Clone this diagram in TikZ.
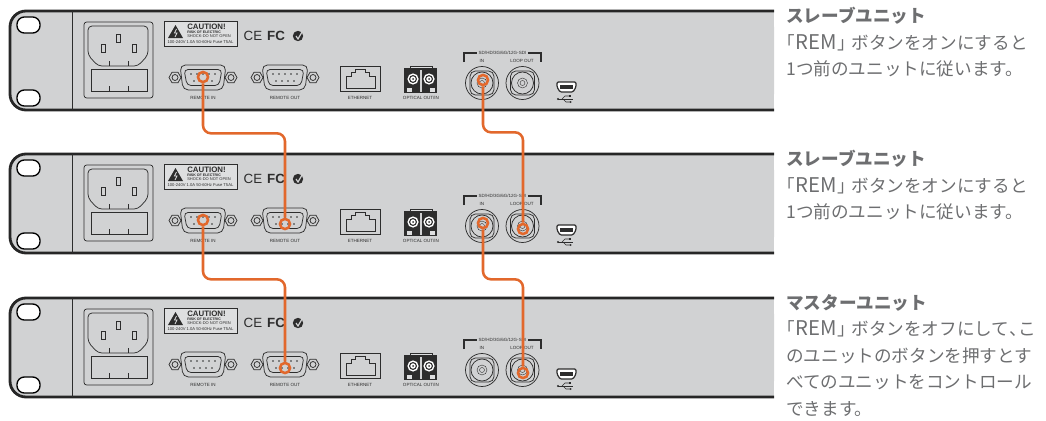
\documentclass[tikz,border=0pt]{standalone}
\usepackage{fontspec}
\setsansfont{Liberation Sans}
\newfontfamily\jpfont{Noto Sans CJK JP}
\newfontfamily\jphalf[RawFeature=+palt]{Noto Sans CJK JP}
\newcommand{\hw}[1]{{\jphalf #1}}
\newcommand{\remword}{\hw{「}\kern.6pt{\fontsize{15.2}{19.9}\selectfont REM}\kern.6pt\hw{」}\kern3.6pt}
\usetikzlibrary{arrows.meta,positioning,calc}
\definecolor{rPanel}{RGB}{209,210,211}
\definecolor{rLabel}{RGB}{222,223,224}
\definecolor{rInk}{RGB}{45,45,45}
\definecolor{rText}{RGB}{109,110,112}
\definecolor{rCable}{RGB}{226,104,44}
\tikzset{
	rearpanel/.pic={
		% body, open on the right side
		\fill[rPanel,rounded corners=12pt] (10,11) rectangle (774,110);
		\fill[rPanel] (60,11) rectangle (774,110);
		\draw[line width=2.1pt,rounded corners=12pt,draw=black!85] (774,11) -- (10,11) -- (10,110) -- (774,110);
		\draw[line width=.6pt,draw=rInk] (72,11) -- (72,110);
		\foreach \yy in {25,98} {
			\draw[line width=1pt,fill=white,rounded corners=5.5pt] (17,\yy-8) rectangle (40,\yy+8);
		}
		% power inlet
		\draw[partline,rounded corners=2pt] (84,22) rectangle (153,98);
		\draw[partline,rounded corners=3pt] (88,26) -- (148,26) -- (148,55) -- (138,66) -- (98,66) -- (88,55) -- cycle;
		\draw[partline] (91,69) rectangle (147,91);
		\draw[partline] (101,44) rectangle (105,52);
		\draw[partline] (116,34) rectangle (120,42);
		\draw[partline] (132,44) rectangle (136,52);
		\foreach \xx in {109,128} {
			\draw[partline] (\xx,61) -- (\xx,66);
			\draw[partline] (\xx,86) -- (\xx,91);
		}
		% caution label
		\draw[partline,fill=rLabel] (164,21) rectangle (237,46);
		\fill[rInk] (175.5,25) -- (183,38) -- (168,38) -- cycle;
		\draw[rLabel,line width=.6pt] (176.5,29) -- (174.5,33) -- (177,33) -- (175,37);
		\node[tinytext,font=\sffamily\bfseries\fontsize{5.9}{5.9}\selectfont,anchor=west] (-caution) at (187,27) {CAUTION!};
		\node[tinytext,font=\sffamily\bfseries\fontsize{2.7}{3}\selectfont,anchor=west] (-risk) at (187,32.5) {RISK OF ELECTRIC};
		\node[tinytext,font=\sffamily\fontsize{3}{3}\selectfont,anchor=west] (-shock) at (187,36) {SHOCK-DO NOT OPEN};
		\node[tinytext,font=\sffamily\fontsize{3.1}{3}\selectfont] (-rating) at (200.5,42.5) {100-240V 1.0A 50-60Hz Fuse T5AL};
		% marks
		\node[tinytext,font=\sffamily\fontsize{10}{10}\selectfont] (-ce) at (253,36) {CE};
		\node[tinytext,font=\sffamily\bfseries\fontsize{10}{10}\selectfont] (-fc) at (276,36) {FC};
		\fill[rInk] (298,36) circle (5.2);
		\draw[rPanel,line width=.9pt] (296,36) -- (298,39) -- (302,32);
		% remote ports
		\foreach \xx in {203,285} {
			\begin{scope}[shift={(\xx,77.5)}]
				\draw[partline,rounded corners=4pt] (-23,-12.5) -- (23,-12.5) -- (20,12.5) -- (-20,12.5) -- cycle;
				\draw[partline,rounded corners=3pt] (-19,-8) -- (19,-8) -- (16,8) -- (-16,8) -- cycle;
				\foreach \sx in {-1,1} {
					\draw[partline] (\sx*28,0) +(0:6) -- +(60:6) -- +(120:6) -- +(180:6) -- +(240:6) -- +(300:6) -- cycle;
					\draw[partline] (\sx*28,0) circle (3);
				}
				\foreach \px in {-12,-6,0,6,12} {
					\fill[rInk] (\px,-3.5) circle (.8);
				}
				\foreach \px in {-9,-3,3,9} {
					\fill[rInk] (\px,3.5) circle (.8);
				}
			\end{scope}
		}
		\node[tinytext] (-remoteinlabel) at (203,98) {REMOTE IN};
		\node[tinytext] (-remoteoutlabel) at (285,98) {REMOTE OUT};
		% ethernet
		\draw[partline] (340,66) rectangle (380,91);
		\draw[partline] (346,88) -- (346,76) -- (351,76) -- (351,72) -- (355,72) -- (355,69) -- (365,69) -- (365,72) -- (369,72) -- (369,76) -- (375,76) -- (375,88) -- cycle;
		\node[tinytext] (-ethernetlabel) at (360,98) {ETHERNET};
		% optical
		\draw[partline,fill=rLabel] (410,66) rectangle (432,70);
		\fill[rInk] (404,68) rectangle (437,93);
		\fill[rPanel] (420,70) rectangle (422,92);
		\fill[rLabel] (407,88) rectangle (412,92);
		\fill[rLabel] (430,88) rectangle (435,92);
		\foreach \xx in {413,429} {
			\fill[white] (\xx,79) circle (5.6);
			\draw[rInk,line width=.8pt] (\xx,79) circle (3.4);
			\fill[rInk] (\xx,79) circle (1);
		}
		\node[tinytext] (-opticallabel) at (421,98) {OPTICAL OUT/IN};
		% sdi
		\draw[line width=.8pt,draw=rInk] (464,62) -- (464,53) -- (541,53) -- (541,62);
		\node[tinytext,fill=rPanel,inner xsep=1pt] (-sdilabel) at (502.5,53) {SD/HD/3G/6G/12G-SDI};
		\node[tinytext] (-inlabel) at (482,61) {IN};
		\node[tinytext] (-looplabel) at (522,61) {LOOP OUT};
		\foreach \xx in {482,522.5} {
			\draw[partline] (\xx,83) circle (16.5);
			\draw[partline,rounded corners=4pt] (\xx-12,71) rectangle (\xx+12,95);
			\draw[partline] (\xx,83) circle (11);
			\draw[line width=.3pt,draw=rInk] (\xx,83) circle (5);
			\draw[line width=.3pt,draw=rInk] (\xx,83) circle (2.5);
		}
		% usb
		\draw[line width=.9pt,draw=rInk,fill=white,rounded corners=1pt] (557,82) -- (576,82) -- (576,87) -- (573,92) -- (560,92) -- (557,87) -- cycle;
		\fill[rInk] (560,85) rectangle (573,89);
		\draw[line width=.6pt,draw=rInk] (558,99) -- (573,99);
		\draw[line width=.5pt,draw=rInk] (562,99) -- (565,96) -- (569,96);
		\draw[line width=.5pt,draw=rInk] (563,99) -- (566,102) -- (570,102);
		\fill[rInk] (558,99) circle (1.2);
		\fill[rInk] (569,95) rectangle (571,97);
		\fill[rInk] (570.5,102) circle (1);
		% where the cables land
		\coordinate (-remin) at (203,77);
		\coordinate (-remout) at (285,81);
		\coordinate (-sdiin) at (483,80);
		\coordinate (-sdiloop) at (523,86);
	}
}
\begin{document}
\begin{tikzpicture}[
	x=.75pt,y=-.75pt,
	partline/.style={line width=.55pt,draw=rInk},
	tinytext/.style={inner sep=0pt,text=rInk,font=\sffamily\fontsize{3.4}{4}\selectfont},
	jackring/.style={circle,draw=rCable,line width=1.9pt,minimum size=7.6pt,inner sep=0pt},
	cable/.style={draw=rCable,line width=1.9pt,rounded corners=6pt},
	sidetext/.style={anchor=north west,align=left,inner sep=0pt,text=rText,font=\jpfont\fontsize{13.2}{19.9}\selectfont}
	]
	\useasboundingbox (0,0) rectangle (1046,421);
	\foreach \yy/\nm in {0/top,143/mid,287/bot} {
		\pic (\nm) at (0,\yy) {rearpanel};
	}
	% rings on the ports
	\node[jackring] (remoteA) at (top-remin) {};
	\node[jackring] (sdiA) at (top-sdiin) {};
	\node[jackring] (remoteB) at (mid-remin) {};
	\node[jackring] (remoteC) at (mid-remout) {};
	\node[jackring] (sdiB) at (mid-sdiin) {};
	\node[jackring] (sdiC) at (mid-sdiloop) {};
	\node[jackring] (remoteD) at (bot-remout) {};
	\node[jackring] (sdiD) at (bot-sdiloop) {};
	% cables
	\draw[cable] (remoteA.south) -- ++(0,50) -| (remoteC.north);
	\draw[cable] (sdiA.south) -- ++(0,46) -| (sdiC.north);
	\draw[cable] (remoteB.south) -- ++(0,53) -| (remoteD.north);
	\draw[cable] (sdiB.south) -- ++(0,50) -| (sdiD.north);
	% captions
	\node[sidetext] (slaveA) at (786,7) {{\bfseries スレーブユニット}\\\remword ボタンをオンにすると\\1つ前のユニットに従います。};
	\node[sidetext] (slaveB) at (786,150) {{\bfseries スレーブユニット}\\\remword ボタンをオンにすると\\1つ前のユニットに従います。};
	\node[sidetext] (master) at (786,294) {{\bfseries マスターユニット}\\\remword ボタンをオフにして\hw{、}こ\\のユニットのボタンを押すとす\\べてのユニットをコントロール\\できます。};
\end{tikzpicture}
\end{document}
